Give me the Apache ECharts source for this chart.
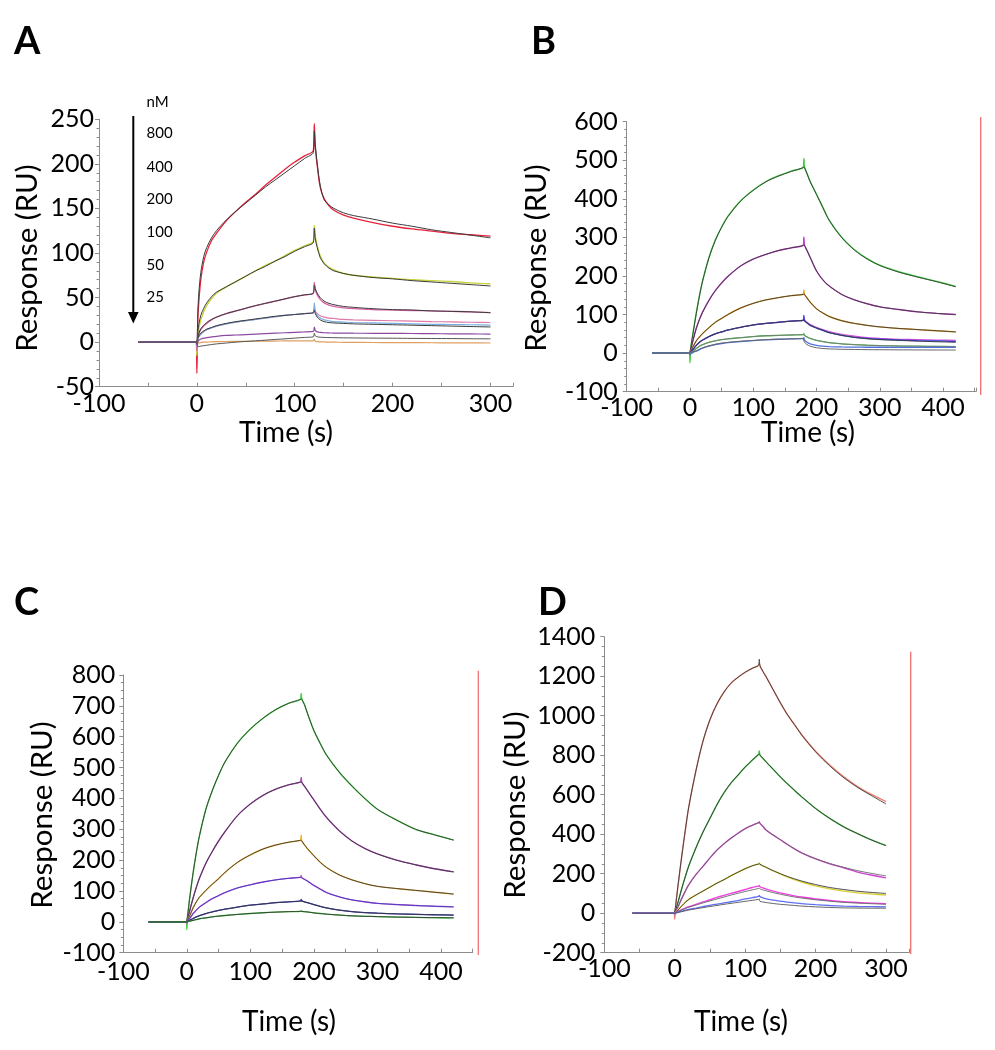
<!DOCTYPE html>
<html>
<head>
<meta charset="utf-8">
<script src="https://cdn.jsdelivr.net/npm/echarts@6/dist/echarts.min.js"></script>
<style>
  html, body { margin: 0; padding: 0; background: #fff; }
  #chart { width: 995px; height: 1050px; }
</style>
</head>
<body>
<div id="chart"></div>
<script>
// ---------------- Panel A (time in s, response in RU) ----------------
const timeA = [-60,-1,0,1,2,4,7,10,15,20,30,40,50,60,70,80,90,100,110,119,120,121,123,126,130,135,140,150,160,180,200,220,240,260,280,300];
const a800    = [0,0,-35,25,45,70,90,101,114,122,136,147,157,166,176,185,194,202,209,215,245,218,198,174,161,153,148,142.5,139,134,130,127,124.5,122,120.5,119];
const a800fit = [0,0,0,35,55,78,96,106,117,125,137,147,156,165,174,182,190,198,206,213,237,222,200,176,160,154,150,145,142,138,133.5,130,126,123,120,117];
const a400    = [0,0,-15,8,15,25,34,41,49,55,62,68,74,80,86,91,97,103,108,113,131,118,108,97,89,84,81,77,75,73,71.5,70,69,68,66.5,65.5];
const a400fit = [0,0,0,12,20,30,38,44,51,56,62,68,74,80,85,91,96,102,107,112,128,116,106,95,88,83,80,77,75,72.5,71,69,67.5,66,64.5,63];
const a200    = [0,0,-10,5,9,14,18,21,25,28,32,35,38,41,43.5,46,48.5,51,53,55,67,59,53,48,44,41.5,40,38.5,37.5,36.5,36,35.5,35,34.5,34,33];
const a200fit = [0,0,0,6,10,15,19,22,25.5,28,32,35,38,41,43.5,46,48.5,51,53,55,64,60,55,50,46,43.5,42,40,39,37.5,36.5,36,35,34.5,34,33];
const a100    = [0,0,-5,3,6,9,12,14,16,18,20.5,22.5,24,25.5,27,28.5,30,31,32,33,40,35,32,29.5,28,27,26.5,25.5,25,24.5,24,23.5,23,22.7,22.3,22];
const a100b   = [0,0,-4,3,6,9,12,14,16,18,20.5,22.5,24,25.5,27,28.5,30,31,32,33,44,34,30,27,25,24,23,22.5,22,21.5,21,20.5,20,19.8,19.5,19];
const a100fit = [0,0,0,4,7,10,12.5,14.5,16.5,18.5,21,23,24.5,26,27.5,29,30,31,32,33,36,32,28,25,23,22,21.5,21,20.5,20,19.5,19,18.5,18,17.5,17];
const a50     = [0,0,-3,1,2,3.5,4.5,5,5.8,6.5,7.5,8,8.5,9,9.5,10,10.5,11,11.5,12,17,13,11.5,11,10.5,10.3,10.2,10.1,10,9.9,9.8,9.7,9.5,9.3,9.2,9];
const a50fit  = [0,0,0,-5,-5,-4.5,-4,-3.5,-2.7,-2,-1,0,0.8,1.5,2.2,3,3.7,4.5,5.3,6,10,7,6,5.5,5.3,5.1,5,4.8,4.7,4.5,4.4,4.2,4.1,4,3.8,3.7];
const a25     = [0,0,-2,-1,-1,-0.5,0,0,0.3,0.5,0.7,0.8,0.9,1,1.1,1.2,1.3,1.4,1.5,1.5,3,1,0.5,0.3,0.2,0,0,-0.2,-0.3,-0.4,-0.5,-0.6,-0.7,-0.8,-0.9,-1];
const concLabelsA = ['800','400','200','100','50','25'];

// ---------------- Panel B ----------------
const timeB = [-60,-1,0,1,2,5,10,15,20,30,40,50,60,80,100,120,140,160,179,180,181,185,190,200,210,220,240,260,280,300,330,360,390,420];
const b1    = [0,0,-25,11,23,55,105,150,188,248,293,327,355,395,423,445,460,472,482,505,482,466,445,412,378,345,300,268,245,228,211,198,186,173];
const b1fit = [0,0,0,11,22,53,103,148,187,247,292,326,354,394,422,444,459,471,481,483,481,465,444,411,377,344,299,267,244,227,210,197,185,172];
const b2    = [0,0,-5,7,14,35,65,88,107,137,162,182,199,226,244,256,266,273,280,301,280,266,248,213,190,174,152,138,128,120,113,107,103,100];
const b2fit = [0,0,0,7,14,34,64,87,106,137,162,182,199,226,244,256,266,273,279,281,279,266,248,213,190,174,152,138,128,120,113,107,103,100];
const b3    = [0,0,-3,3,7,17,32,42,51,66,80,90,100,117,129,138,144,149,153,163,152,143,132,115,104,95,84,77,72,68,64,61,58,55];
const b3fit = [0,0,0,3,7,17,32,42,51,66,80,90,100,117,129,138,144,149,152,153,152,143,132,115,104,95,84,77,72,68,64,61,58,55];
const b4    = [0,0,-3,2,4,10,20,28,34,43,50,55,60,67,73,77,80,83,85,98,84,78,72,65,59,53,46,41,38,36,34,32.5,31.5,30];
const b4m   = [0,0,-2,2,4,10,20,28,34,43,50,55,60,67,73,77,80,83,86,92,86,80,74,67,61,56,49,44,40,38,36,35,34,33];
const b4fit = [0,0,0,2,4,10,20,28,34,43,50,55,60,67,73,77,80,83,85,86,84,78,72,65,59,53,46,41,37,35,33,31,29.5,28];
const b5    = [0,0,-2,1,2,5,12,18,22,28,32,35,37,40,43,45,46,47,48,51,46,42,38,33,30,27,24,22,20.5,19.5,18.5,18,17.5,17];
const b5fit = [0,0,0,1,2,5,12,18,22,28,32,35,37,40,43,45,46,47,48,48,46,42,38,33,30,27,24,22,20.5,19.5,18.5,18,17.5,17];
const b6    = [0,0,0,-2,-1,2,5,9,13,18,22,25,27,30,32.5,34.5,36,37,38,40,34,28,24,20,18,17,16,15.5,15.3,15.2,15.1,15,15,15];
const b6fit = [0,0,0,0,1,3,6,10,14,19,23,26,28,31,33,35,36,37,37.5,37.5,28,22,18,14,12,11,10,9.5,9,8.8,8.5,8.3,8.1,8];

// ---------------- Panel C ----------------
const timeC = [-60,-1,0,1,2,5,10,15,20,30,40,50,60,80,100,120,140,160,179,180,181,185,190,200,210,220,240,260,280,300,330,360,390,420];
const c1    = [0,0,-25,15,33,85,160,225,280,365,425,475,518,580,625,660,688,708,722,740,722,705,675,620,578,540,485,440,400,365,330,300,282,265];
const c1fit = [0,0,0,17,34,85,160,225,280,365,425,475,518,580,625,660,688,708,721,723,721,705,675,620,578,540,485,440,400,365,330,300,282,265];
const c2    = [0,0,-5,7,15,40,78,112,142,190,228,262,292,345,382,410,430,444,454,468,452,440,425,395,365,338,295,262,238,220,200,185,172,162];
const c2fit = [0,0,0,8,16,40,78,112,142,190,228,262,292,345,382,410,430,444,453,454,452,440,425,395,365,338,295,262,238,220,200,185,172,162];
const c3    = [0,0,-3,4,9,22,46,65,80,102,122,140,160,193,217,236,249,258,265,281,262,250,237,214,193,176,152,136,124,115,108,102,96,90];
const c3fit = [0,0,0,4,9,22,46,65,80,102,122,140,160,193,217,236,249,258,264,265,262,250,237,214,193,176,152,136,124,115,108,102,96,90];
const c4    = [0,0,-3,2,4,12,27,38,48,62,75,85,95,110,120,129,136,141,145,150,143,138,132,118,106,95,81,71,65,60,56,53,50.5,48.5];
const c4fit = [0,0,0,2,5,12,27,38,48,62,75,85,95,110,120,129,136,141,144,145,143,138,132,118,106,95,81,71,65,60,56,53,50.5,48.5];
const c5    = [0,0,-2,1,2,5,11,16,20,27,32,37,41,48,54,58,62,65,68,73,68,65,62,56,50,45,38,33,30,28,26,24.5,23,22];
const c5fit = [0,0,0,1,2,5,11,16,20,27,32,37,41,48,54,58,62,65,67,68,67,65,62,56,50,45,38,33,30,28,26,24.5,23,22];
const c6    = [0,0,-1,0,1,2.5,5,7.5,10,13,16,18.5,20.5,24,27,29.5,31.5,33,34,36,34,33,32,29,27,25,22,19.5,18,17,15.5,14.5,13.5,13];
const c6fit = [0,0,0,0,1,2.5,5,7.5,10,13,16,18.5,20.5,24,27,29.5,31.5,33,34,34,34,33,32,29,27,25,22,19.5,18,17,15.5,14.5,13.5,13];

// ---------------- Panel D ----------------
const timeD = [-60,-1,0,1,2,5,10,15,20,30,40,50,60,70,80,90,100,110,119,120,121,125,130,140,150,160,170,180,200,220,240,260,280,300];
const d1    = [0,0,-30,25,60,150,290,420,540,720,870,980,1060,1120,1165,1195,1220,1240,1255,1265,1250,1225,1195,1130,1065,1005,955,905,820,750,690,640,600,565];
const d1fit = [0,0,0,30,60,150,290,420,540,720,870,980,1060,1120,1165,1195,1220,1240,1255,1286,1255,1225,1195,1130,1065,1005,955,903,817,746,686,636,594,553];
const d2    = [0,0,-5,10,22,60,125,185,240,330,410,480,550,610,660,700,740,775,805,822,800,785,765,728,690,655,622,590,530,480,437,402,370,342];
const d2fit = [0,0,0,11,23,60,125,185,240,330,410,480,550,610,660,700,740,775,803,806,802,785,765,728,690,655,622,590,530,480,437,402,370,342];
const d3    = [0,0,-5,5,12,35,75,112,145,195,237,280,320,352,380,405,428,445,459,463,455,440,420,395,372,348,326,306,275,250,230,208,192,179];
const d3fit = [0,0,0,5,12,35,75,112,145,195,237,280,320,352,380,405,428,445,458,459,456,440,420,395,372,348,326,306,276,252,232,215,201,189];
const d4    = [0,0,-3,3,6,17,37,55,70,92,112,132,152,170,190,208,225,240,250,255,248,240,232,214,198,183,170,158,138,123,112,103,97,92];
const d4fit = [0,0,0,3,6,17,37,55,70,92,112,132,152,170,190,208,225,240,249,250,248,240,232,215,200,186,174,163,145,130,120,111,105,100];
const d5    = [0,0,-2,2,4,10,18,26,33,45,57,68,80,90,100,110,120,130,137,140,134,128,122,112,103,95,88,82,72,64,58,54,51,48];
const d5fit = [0,0,0,2,4,9,17,24,30,41,52,62,72,82,92,101,110,118,125,126,123,118,113,104,96,89,82,77,68,61,55,51,48,45];
const d6    = [0,0,-5,1,2,5,10,15,19,26,33,40,46,52,58,64,72,79,85,90,84,78,73,66,61,56,52,48,43,39,36,34,33,32];
const d6fit = [0,0,0,1,2,4,8,12,16,22,28,34,39,45,50,55,60,65,70,72,60,57,54,49,45,42,39,36,32,29,27,26,25.5,25];

// ---------------- Axis definitions ----------------
const panels = [
  { grid: {left: 99,    top: 119.3, width: 414,   height: 267.4}, xMax: 323, yMin: -50,  yMax: 250,  yInt: 50,  yMinor: 5, yMargin: 5, xMargin: 5 },
  { grid: {left: 626.7, top: 121.7, width: 349.3, height: 270},   xMax: 452, yMin: -100, yMax: 600,  yInt: 100, yMinor: 5, yMargin: 9, xMargin: 4 },
  { grid: {left: 123.3, top: 675,   width: 349.4, height: 277.7}, xMax: 450, yMin: -100, yMax: 800,  yInt: 100, yMinor: 4, yMargin: 8, xMargin: 7 },
  { grid: {left: 604.3, top: 636.7, width: 305,   height: 316},   xMax: 333, yMin: -200, yMax: 1400, yInt: 200, yMinor: 4, yMargin: 9, xMargin: 4 }
];

const FIT = '#3a3a3a';
const seriesDefs = [
  // panel, time, values, colour, width
  [0, timeA, a25, '#e0a060', 1.2],
  [0, timeA, a800, '#e8203a', 1.3], [0, timeA, a800fit, FIT, 1.0],
  [0, timeA, a400, '#c8d43c', 1.4], [0, timeA, a400fit, FIT, 1.0],
  [0, timeA, a200, '#d860a8', 1.3], [0, timeA, a200fit, FIT, 1.0],
  [0, timeA, a100, '#e07aa8', 1.2], [0, timeA, a100b, '#78aee0', 1.2], [0, timeA, a100fit, FIT, 1.0],
  [0, timeA, a50, '#8a4aa0', 1.2], [0, timeA, a50fit, '#555555', 1.0],

  [1, timeB, b1, '#3ed23e', 1.4], [1, timeB, b1fit, FIT, 0.9],
  [1, timeB, b2, '#c040c8', 1.4], [1, timeB, b2fit, FIT, 0.9],
  [1, timeB, b3, '#e8a020', 1.4], [1, timeB, b3fit, FIT, 0.9],
  [1, timeB, b4m, '#d050d8', 1.2], [1, timeB, b4, '#3040d8', 1.3], [1, timeB, b4fit, FIT, 0.9],
  [1, timeB, b5, '#50c050', 1.3], [1, timeB, b5fit, '#777777', 0.9],
  [1, timeB, b6, '#5070e0', 1.3], [1, timeB, b6fit, '#666666', 1.0],

  [2, timeC, c1, '#40d040', 1.4], [2, timeC, c1fit, FIT, 0.9],
  [2, timeC, c2, '#b040c0', 1.4], [2, timeC, c2fit, FIT, 0.9],
  [2, timeC, c3, '#f0b030', 1.4], [2, timeC, c3fit, FIT, 0.9],
  [2, timeC, c4, '#d050d0', 1.4], [2, timeC, c4fit, '#3040c0', 0.9],
  [2, timeC, c5, '#2828b8', 1.3], [2, timeC, c5fit, FIT, 0.9],
  [2, timeC, c6, '#30c030', 1.3], [2, timeC, c6fit, FIT, 0.9],

  [3, timeD, d1, '#f08070', 1.4], [3, timeD, d1fit, FIT, 0.9],
  [3, timeD, d2, '#40c040', 1.4], [3, timeD, d2fit, FIT, 0.9],
  [3, timeD, d3, '#d040d0', 1.4], [3, timeD, d3fit, '#666666', 0.9],
  [3, timeD, d4, '#d8d030', 1.4], [3, timeD, d4fit, FIT, 0.9],
  [3, timeD, d5, '#f040e0', 1.4], [3, timeD, d5fit, '#666666', 0.9],
  [3, timeD, d6, '#6070f0', 1.3], [3, timeD, d6fit, '#555555', 0.9]
];

const series = seriesDefs.map(([p, t, v, c, w], k) => ({
  type: 'line',
  xAxisIndex: p, yAxisIndex: p,
  data: t.map((x, i) => [x, v[i]]),
  showSymbol: false, symbol: 'none',
  smooth: 0.3,
  silent: true,
  lineStyle: { color: c, width: w },
  z: 2 + k * 0.01
}));

const axisGrey = '#8c8c8c';
const FONT = 'Lato';
const TICK_FS = 25;
const xAxes = panels.map((p, i) => ({
  gridIndex: i, type: 'value', min: -100, max: p.xMax, interval: 50,
  axisLine: { show: true, onZero: false, lineStyle: { color: axisGrey, width: 1 } },
  axisTick: { show: true, inside: true, length: 4, lineStyle: { color: axisGrey } },
  axisLabel: { fontFamily: FONT, fontSize: TICK_FS, color: '#000', margin: p.xMargin,
    formatter: v => (Math.abs(v % 100) < 1e-9 ? String(v) : '') },
  splitLine: { show: false }
}));
const yAxes = panels.map((p, i) => ({
  gridIndex: i, type: 'value', min: p.yMin, max: p.yMax, interval: p.yInt,
  axisLine: { show: true, onZero: false, lineStyle: { color: axisGrey, width: 1 } },
  axisTick: { show: true, inside: false, length: 4, lineStyle: { color: axisGrey } },
  minorTick: { show: true, splitNumber: p.yMinor, length: 2.5, lineStyle: { color: axisGrey } },
  axisLabel: { fontFamily: FONT, fontSize: TICK_FS, color: '#000', margin: p.yMargin,
    formatter: v => String(v) },
  splitLine: { show: false }
}));

// ---------------- Text and decorations ----------------
const txt = (s, x, y, font, align, rot) => ({
  type: 'text', x, y, rotation: rot || 0, silent: true,
  style: { text: s, font, fill: '#000', align: align || 'center', verticalAlign: 'middle' }
});
const LETTER = 'bold 38px ' + FONT;
const YTITLE = '29.5px ' + FONT;
const XTITLE = '28px ' + FONT;
const graphic = [
  txt('A', 14, 41.5, LETTER, 'left'),
  txt('B', 531, 41.5, LETTER, 'left'),
  txt('C', 14, 603, LETTER, 'left'),
  txt('D', 538, 603, LETTER, 'left'),
  txt('Response (RU)', 27, 258, YTITLE, 'center', Math.PI / 2),
  txt('Response (RU)', 536, 258, YTITLE, 'center', Math.PI / 2),
  txt('Response (RU)', 42, 815, YTITLE, 'center', Math.PI / 2),
  txt('Response (RU)', 515, 805, YTITLE, 'center', Math.PI / 2),
  txt('Time (s)', 286, 433, XTITLE, 'center'),
  txt('Time (s)', 808, 433, XTITLE, 'center'),
  txt('Time (s)', 289, 1022, XTITLE, 'center'),
  txt('Time (s)', 741, 1022, XTITLE, 'center'),
  txt('nM', 146.5, 102, '15px ' + FONT, 'left'),
  // concentration arrow
  { type: 'line', silent: true, shape: { x1: 133.3, y1: 116, x2: 133.3, y2: 314 }, style: { stroke: '#000', lineWidth: 2 } },
  { type: 'polygon', silent: true, shape: { points: [[128, 312], [138.6, 312], [133.3, 323.5]] }, style: { fill: '#000' } },
  // red vertical lines at the right of B, C, D
  { type: 'line', silent: true, shape: { x1: 980.7, y1: 117, x2: 980.7, y2: 395 }, style: { stroke: '#f07070', lineWidth: 1.3 } },
  { type: 'line', silent: true, shape: { x1: 478.3, y1: 670.7, x2: 478.3, y2: 955 }, style: { stroke: '#f07070', lineWidth: 1.3 } },
  { type: 'line', silent: true, shape: { x1: 910.7, y1: 651.7, x2: 910.7, y2: 954 }, style: { stroke: '#f07070', lineWidth: 1.3 } }
];
const concY = [133.5, 166.7, 199, 231.7, 265, 297.5];
concLabelsA.forEach((s, i) => graphic.push(txt(s, 146.5, concY[i], '15px ' + FONT, 'left')));

const chart = echarts.init(document.getElementById('chart'), null, { renderer: 'canvas' });
chart.setOption({
  animation: false,
  backgroundColor: '#ffffff',
  grid: panels.map(p => Object.assign({ containLabel: false }, p.grid)),
  xAxis: xAxes,
  yAxis: yAxes,
  series,
  graphic
});
</script>
</body>
</html>
